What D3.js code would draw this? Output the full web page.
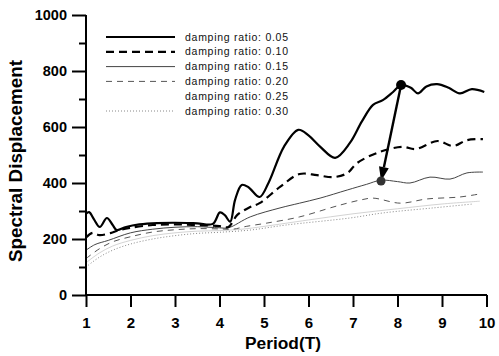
<!DOCTYPE html>
<html><head><meta charset="utf-8">
<script src="https://cdn.jsdelivr.net/npm/d3@7"></script>
<style>body{margin:0;background:#fff}svg{display:block}</style>
</head><body>
<svg id="c" width="499" height="356"></svg>
<script>
const xTicks = [1,2,3,4,5,6,7,8,9,10];
const yTicks = [0,200,400,600,800,1000];
const yMinor = [100,300,500,700,900];
const seriesNames = ["damping ratio: 0.05","damping ratio: 0.10","damping ratio: 0.15","damping ratio: 0.20","damping ratio: 0.25","damping ratio: 0.30"];
const s005 = [[1.0,290],[1.07,296],[1.18,270],[1.31,243],[1.47,275],[1.6,250],[1.69,232],[1.9,243],[2.2,252],[2.6,257],[3.0,258],[3.5,256],[3.85,254],[4.01,295],[4.12,285],[4.24,262],[4.35,340],[4.5,393],[4.65,385],[4.9,350],[5.1,400],[5.45,530],[5.77,590],[6.0,570],[6.26,530],[6.6,490],[6.93,543],[7.2,620],[7.45,679],[7.67,696],[7.9,725],[8.08,750],[8.3,740],[8.46,720],[8.65,745],[8.89,753],[9.15,740],[9.4,720],[9.67,735],[9.95,725]];
const s010 = [[1.0,205],[1.15,222],[1.3,214],[1.55,221],[1.75,232],[2.0,240],[2.5,250],[3.0,252],[3.5,250],[4.0,246],[4.2,243],[4.4,286],[4.69,314],[4.9,328],[5.36,386],[5.8,432],[6.19,428],[6.55,421],[6.87,435],[7.09,471],[7.6,511],[8.12,529],[8.4,521],[8.9,550],[9.25,532],[9.56,553],[9.92,557]];
const s015 = [[1.0,160],[1.2,180],[1.5,195],[2.0,222],[2.5,235],[3.0,242],[3.5,244],[4.0,240],[4.2,240],[4.69,279],[5.36,311],[5.8,328],[6.26,346],[6.87,375],[7.3,395],[7.63,410],[8.0,405],[8.28,400],[8.73,421],[9.18,414],[9.56,436],[9.92,439]];
const s020 = [[1.0,130],[1.3,165],[1.6,190],[2.0,208],[2.5,225],[3.0,233],[3.5,237],[4.0,236],[4.3,235],[4.6,245],[5.07,257],[5.8,279],[6.55,314],[6.87,328],[7.16,339],[7.45,346],[8.06,328],[8.66,343],[9.4,350],[9.85,361]];
const s025 = [[1.0,115],[1.3,150],[1.6,175],[2.0,195],[2.5,212],[3.0,222],[3.5,228],[4.0,230],[4.5,235],[5.0,245],[6.0,268],[7.0,290],[8.0,308],[9.0,325],[9.85,335]];
const s030 = [[1.0,100],[1.3,135],[1.6,160],[2.0,182],[2.5,200],[3.0,212],[3.5,220],[4.0,224],[4.69,232],[5.5,250],[6.93,275],[7.67,293],[8.8,311],[9.7,325]];
const arrowFrom = [8.08,750];
const arrowTo = [7.63,407];

const FONT = "Arial, 'Liberation Sans', sans-serif";
const svg = d3.select("#c");
const x = d3.scaleLinear().domain([1,10]).range([86,486.5]);
const y = d3.scaleLinear().domain([0,1000]).range([295,15]);

const styles = [
  {stroke:"#000", w:2.2, dash:null},
  {stroke:"#000", w:2.2, dash:"8,5"},
  {stroke:"#444", w:1, dash:null},
  {stroke:"#555", w:1, dash:"6,5"},
  {stroke:"#c8c8c8", w:0.8, dash:null},
  {stroke:"#888", w:1, dash:"1,2"}
];
const allSeries = [s005,s010,s015,s020,s025,s030];
const line = d3.line().x(d=>x(d[0])).y(d=>y(d[1])).curve(d3.curveCatmullRom.alpha(0.5));

allSeries.slice().reverse().forEach((s,ri)=>{
  const i = allSeries.length-1-ri;
  const st = styles[i];
  svg.append("path").attr("d", line(s)).attr("fill","none")
    .attr("stroke", st.stroke).attr("stroke-width", st.w)
    .attr("stroke-dasharray", st.dash);
});

// axes
const xAxis = d3.axisBottom(x).tickValues(xTicks).tickSize(12).tickPadding(10).tickFormat(d3.format("d"));
const gx = svg.append("g").attr("transform","translate(0,295)").call(xAxis);
const yAxis = d3.axisLeft(y).tickValues(yTicks).tickSize(14).tickPadding(5).tickFormat(d3.format("d"));
const gy = svg.append("g").attr("transform","translate(86,0)").call(yAxis);
const yAxisMinor = d3.axisLeft(y).tickValues(yMinor).tickSize(7).tickFormat("");
const gym = svg.append("g").attr("transform","translate(86,0)").call(yAxisMinor);
[gx,gy,gym].forEach(g=>{
  g.select(".domain").attr("stroke","#000").attr("stroke-width",2);
  g.selectAll(".tick line").attr("stroke","#000").attr("stroke-width",2);
  g.selectAll("text").attr("fill","#000").style("font-family",FONT)
    .style("font-weight","bold").style("font-size","14.5px");
});
gx.selectAll("text").style("font-size","15px");
gym.select(".domain").remove();
gx.select(".domain").attr("d","M86,0H487");
gy.select(".domain").attr("d","M0,15V295");

svg.append("text").attr("x",283).attr("y",349).attr("text-anchor","middle")
  .attr("textLength",76).attr("lengthAdjust","spacingAndGlyphs")
  .style("font-family",FONT).style("font-weight","bold").style("font-size","16px")
  .text("Period(T)");
svg.append("text").attr("transform","translate(22,161) rotate(-90)").attr("text-anchor","middle")
  .attr("textLength",202).attr("lengthAdjust","spacingAndGlyphs")
  .style("font-family",FONT).style("font-weight","bold").style("font-size","19px")
  .text("Spectral Displacement");

// legend
const leg = svg.append("g");
seriesNames.forEach((n,i)=>{
  const yy = 37 + i*14.8;
  const st = styles[i];
  if (i!==4) leg.append("line").attr("x1",106).attr("x2",175).attr("y1",yy).attr("y2",yy)
    .attr("stroke",st.stroke).attr("stroke-width",st.w).attr("stroke-dasharray",st.dash);
  leg.append("text").attr("x",185).attr("y",yy+3.5)
    .attr("textLength",103).attr("lengthAdjust","spacing")
    .style("font-family",FONT).style("font-size","10.5px")
    .attr("fill","#111").text(n);
});

// arrow & markers
const ax1 = x(arrowFrom[0]), ay1 = y(arrowFrom[1]), ax2 = x(arrowTo[0]), ay2 = y(arrowTo[1]);
const ang = Math.atan2(ay2-ay1, ax2-ax1);
const hl = 14, hw = 5;
const bx = ax2 - Math.cos(ang)*hl, by = ay2 - Math.sin(ang)*hl;
svg.append("line").attr("x1",ax1).attr("y1",ay1).attr("x2",bx).attr("y2",by)
  .attr("stroke","#000").attr("stroke-width",2.4);
svg.append("path").attr("d",`M${ax2},${ay2}L${bx - Math.sin(ang)*hw},${by + Math.cos(ang)*hw}L${bx + Math.sin(ang)*hw},${by - Math.cos(ang)*hw}Z`)
  .attr("fill","#000");
svg.append("circle").attr("cx",ax1).attr("cy",ay1).attr("r",5).attr("fill","#000");
svg.append("circle").attr("cx",ax2).attr("cy",ay2).attr("r",4.5).attr("fill","#333");
</script>
</body></html>
